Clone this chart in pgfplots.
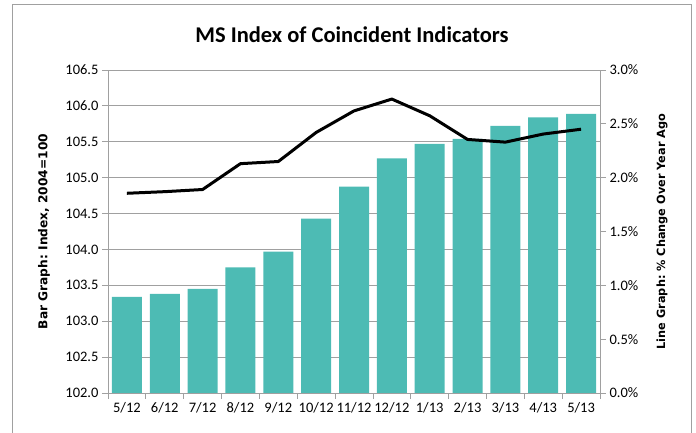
\documentclass[border=0pt]{standalone}
\usepackage{pgfplots}
\pgfplotsset{compat=1.18}
\usepackage{fontspec}
\setmainfont{Carlito}
\newfontfamily\labfont{DejaVu Sans}
\frenchspacing
\definecolor{barc}{RGB}{77,187,180}
\definecolor{gridc}{RGB}{160,160,160}
\begin{document}
\begin{tikzpicture}
\useasboundingbox (0pt,0pt) rectangle (696pt,433pt);
\draw[gridc, line width=1pt] (12pt,-10pt) rectangle (691pt,428pt);
\node[font=\fontsize{22.5}{26}\selectfont\bfseries] at (352pt,398pt) {MS Index of Coincident Indicators};
\begin{axis}[
  at={(108pt,40pt)}, anchor=south west, scale only axis,
  width=492pt, height=323pt,
  xmin=-0.5, xmax=12.5, ymin=102, ymax=106.5,
  axis lines*=left,
  axis line style={gridc, line width=0.8pt},
  ytick={102,102.5,...,106.5},
  ymajorgrids, grid style={gridc, line width=0.8pt},
  xtick={0,...,12},
  xticklabels={5/12,6/12,7/12,8/12,9/12,10/12,11/12,12/12,1/13,2/13,3/13,4/13,5/13},
  major x tick style={draw=none},
  minor xtick={-0.5,0.5,...,12.5},
  minor x tick style={gridc, line width=0.8pt},
  minor tick length=6pt,
  major tick length=6pt,
  tick align=outside,
  y tick style={gridc, line width=0.8pt},
  tick label style={font=\fontsize{14.5}{16}\selectfont},
  yticklabel style={/pgf/number format/.cd, fixed, fixed zerofill, precision=1},
  /pgf/number format/assume math mode=true,
  ylabel={\labfont\bfseries\frenchspacing Bar Graph: Index, 2004=100},
  ylabel style={at={(axis description cs:-0.13,0.5)}, anchor=center, font=\fontsize{12.2}{14}\selectfont},
  ybar, bar width=30pt,
]
\addplot[fill=barc, draw=none] coordinates {
(0,103.34) (1,103.38) (2,103.45) (3,103.75) (4,103.97) (5,104.43) (6,104.875)
(7,105.27) (8,105.47) (9,105.54) (10,105.72) (11,105.84) (12,105.89)};
\end{axis}
\begin{axis}[
  at={(108pt,40pt)}, anchor=south west, scale only axis,
  width=492pt, height=323pt,
  xmin=-0.5, xmax=12.5, ymin=0, ymax=3.0,
  axis y line*=right, axis x line=none,
  axis line style={gridc, line width=0.8pt},
  ytick={0,0.5,...,3.0},
  yticklabel={\pgfmathprintnumber[fixed,fixed zerofill,precision=1]{\tick}\%},
  tick align=outside, major tick length=6pt,
  y tick style={gridc, line width=0.8pt},
  tick label style={font=\fontsize{14.5}{16}\selectfont},
  /pgf/number format/assume math mode=true,
  ylabel={\labfont\bfseries\frenchspacing Line Graph: \% Change Over Year Ago},
  ylabel style={at={(axis description cs:1.126,0.5)}, anchor=center, font=\fontsize{11.3}{13}\selectfont},
]
\addplot[black, line width=3pt, line join=round] coordinates {
(0,1.855) (1,1.87) (2,1.89) (3,2.13) (4,2.15) (5,2.42) (6,2.62)
(7,2.73) (8,2.575) (9,2.355) (10,2.33) (11,2.405) (12,2.45)};
\end{axis}
\end{tikzpicture}
\end{document}
